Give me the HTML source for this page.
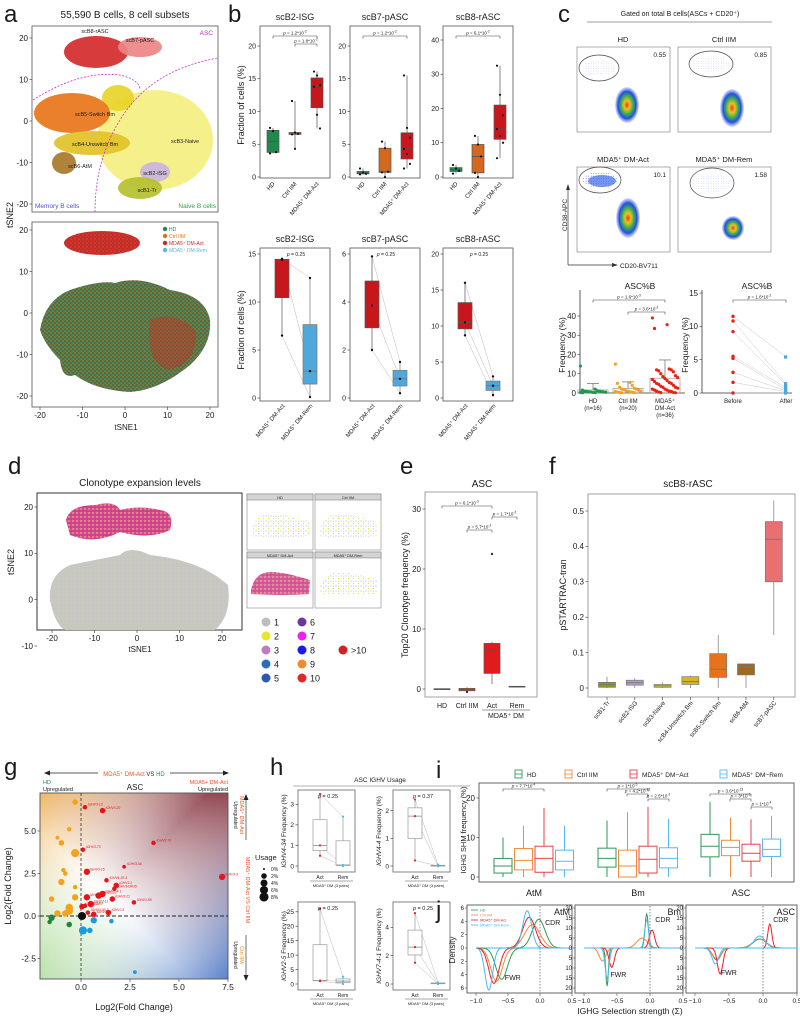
<!DOCTYPE html>
<html><head><meta charset="utf-8">
<style>
body{margin:0;background:#fff;}
svg{display:block;font-family:"Liberation Sans",Arial,sans-serif;}
</style></head>
<body>
<svg id="fig" width="800" height="1019" viewBox="0 0 800 1019">
<defs>
<pattern id="mixA" width="4" height="4" patternUnits="userSpaceOnUse">
<rect width="4" height="4" fill="#2e8b4e"/>
<circle cx="1" cy="1" r="0.8" fill="#d9231f"/><circle cx="3" cy="3" r="0.7" fill="#d9231f"/>
<circle cx="3" cy="1" r="0.5" fill="#e38a2c"/><circle cx="1" cy="3.2" r="0.45" fill="#5ab4e5"/>
</pattern>
<pattern id="mixR" width="4" height="4" patternUnits="userSpaceOnUse">
<rect width="4" height="4" fill="#d9231f"/>
<circle cx="1" cy="1" r="0.6" fill="#2e8b4e"/><circle cx="3" cy="3" r="0.45" fill="#5ab4e5"/>
</pattern>
<pattern id="grayD" width="4" height="4" patternUnits="userSpaceOnUse">
<rect width="4" height="4" fill="#c6c6c6"/>
<circle cx="1" cy="1" r="0.4" fill="#e3e31c"/><circle cx="3" cy="3" r="0.4" fill="#dadada"/>
</pattern>
<pattern id="multiD" width="4" height="4" patternUnits="userSpaceOnUse">
<rect width="4" height="4" fill="#d44a9a"/>
<circle cx="1" cy="1" r="0.7" fill="#e6e62a"/><circle cx="3" cy="3" r="0.6" fill="#e21a1a"/>
<circle cx="3" cy="1" r="0.45" fill="#f22af2"/><circle cx="1" cy="3" r="0.4" fill="#3a3ae8"/>
</pattern>
<pattern id="sparseD" width="5" height="5" patternUnits="userSpaceOnUse">
<rect width="5" height="5" fill="#fff"/>
<circle cx="1" cy="1" r="0.6" fill="#bbb"/><circle cx="3.5" cy="3.5" r="0.6" fill="#e3e31c"/><circle cx="3.5" cy="1.2" r="0.4" fill="#999"/>
</pattern>
<radialGradient id="flow" cx="0.5" cy="0.5" r="0.5">
<stop offset="0" stop-color="#e8401a"/><stop offset="0.25" stop-color="#f0c020"/>
<stop offset="0.5" stop-color="#40b050"/><stop offset="0.75" stop-color="#2050e0"/>
<stop offset="1" stop-color="#6070f0" stop-opacity="0.2"/></radialGradient>
<pattern id="blueDots" width="2.5" height="2.5" patternUnits="userSpaceOnUse">
<circle cx="1.2" cy="1.2" r="0.4" fill="#3050e0"/></pattern>
<linearGradient id="gBg1" x1="0" y1="1" x2="1" y2="0">
<stop offset="0" stop-color="#b9e0a8"/><stop offset="0.4" stop-color="#ffffff"/><stop offset="1" stop-color="#8a3a45"/></linearGradient>
<linearGradient id="gBg2" x1="0" y1="0" x2="1" y2="1">
<stop offset="0" stop-color="#f0b050" stop-opacity="0.85"/><stop offset="0.45" stop-color="#ffffff" stop-opacity="0"/><stop offset="1" stop-color="#4a78c8" stop-opacity="0.9"/></linearGradient>
</defs>
</svg>
<script>
// ---------------- data ----------------
const bTopTitles=['scB2-ISG','scB7-pASC','scB8-rASC'];
const bTopMax=[20,20,40];
const bHD=[[7.5,7.0,3.8,3.6],[1.3,0.7,0.5,0.4],[3.5,2.5,1.8,1.0]];
const bCtrl=[[11.6,6.8,6.6,6.5,4.3],[5.4,4.4,0.8,0.7,0.0],[12,9.5,6,1.2,0]];
const bAct=[[16.1,15.5,14.0,13.8,9.5,7.4],[15.5,7.5,6.0,4.3,3.5,2.0,1.3],[32.5,24,18,14,12,10,5.5]];
const bBotMax=[15,6,20];
const bPairAct=[[14.5,14.4,6.5],[5.9,3.85,2.0],[16,10.5,8.7]];
const bPairRem=[[12.5,2.8,0.1],[1.5,0.8,0.2],[3.0,1.7,0.4]];
const cHD=[14,2,1.5,1.2,1,1,0.8,0.8,0.6,0.5,0.5,0.4,0.3,0.3,0.2,0.1];
const cCtrl=[15,5.5,5,4,3,2.5,2,2,1.8,1.5,1.2,1,1,0.8,0.6,0.5,0.4,0.3,0.2,0.1];
const cAct=[39,35.5,33.5,12.5,12,12,11.5,11,10,9,8.5,8,7.5,7,6.5,6,5.5,5,5,4.5,4,3.5,3,3,2.5,2,2,1.5,1.5,1,1,0.8,0.5,0.3,0.2,0.1];
const cBefore=[11.5,10.8,9.2,5.5,5.2,3.1,1.6,0];
const cAfter=[5.4,1.4,1.2,0.8,0.5,0.3,0.2,0];
const eCats=['HD','Ctrl IIM','Act','Rem'];
const eStats=[[0,-0.1,-0.05,0.05,0.1],[-0.5,-0.3,-0.1,0.1,0.3],[0.8,2.6,6.5,7.6,7.9],[0.3,0.35,0.4,0.45,0.5]];
const eOut=[[],[-0.5],[22.5],[]];
const fCats=['scB1-Tr','scB2-ISG','scB3-Naive','scB4-Unswitch Bm','scB5-Switch Bm','scB6-AtM','scB7-pASC'];
const fStats=[[0,0.002,0.01,0.016,0.032],[0,0.008,0.015,0.022,0.028],[0,0.002,0.006,0.01,0.016],[0,0.01,0.018,0.032,0.035],[0,0.03,0.053,0.097,0.15],[0,0.037,0.06,0.068,0.068],[0.15,0.3,0.42,0.47,0.53]];
const fCols=['#8f9a1a','#b49ac8','#d8d040','#d4b820','#e8721c','#a06a1a','#e87070'];
const gRed=[[0.2,6.4,1],[1.1,6.2,2],[3.7,4.3,1],[0.1,3.9,1],[0.3,2.6,3],[2.2,2.9,0.5],[7.2,2.3,3],[1.8,1.8,2],[1.3,2.1,1],[1.7,1.6,1],[0.9,1.2,3],[1.1,1.3,3],[0.3,1.1,3],[1.6,1.0,2],[2.7,0.8,1],[0.5,0.7,3],[0.2,0.6,1],[0.05,0.55,2],[1.4,0.2,2],[0.35,0.2,1],[0.65,0.1,2]];
const gRedLab=['IGHV3-13','IGHV3-20','IGHV2-70','IGHV3-73','IGHV3-15','IGHV3-NL','IGHV3-9','IGHV1-2','IGHV4-30-4','IGHV3/OR15','IGHV3-23','IGHV7-4-1','IGHV4-28','IGHV3-21','IGHV1-58','IGHV3-11','IGHV1-69','IGHV4-34','IGHV2-5','IGHV3-30-3','IGHV1-3'];
const gOrange=[[-0.3,6.7,2],[-0.6,5.1,1],[-1.2,4.6,0.5],[-1.0,4.3,2],[-0.3,3.7,6],[-0.9,2.7,1],[-0.8,2.5,1],[-1.0,2.0,3],[-0.3,1.7,1],[-1.5,1.0,2],[-0.3,1.1,3],[-0.6,0.5,5],[-0.6,0.3,5],[-1.2,0.15,3],[-0.8,0.15,3]];
const gGreen=[[-1.5,-0.1,3],[-1.6,-0.35,1],[-0.6,-0.5,2]];
const gBlue=[[0.65,-0.25,3],[1.55,-0.3,1],[0.1,-0.85,6],[0.45,-0.85,2],[2.75,-3.3,0.5]];
const gBlack=[[0.05,0.0,6]];
const hGenes=['IGHV4-34','IGHV4-4','IGHV2-5','IGHV7-4-1'];
const hMax=[3.5,2.6,27,5.5];
const hTicks=[[0,1,2,3],[0,1,2],[0,5,10,15,20,25],[0,2,4]];
const hP=['0.25','0.37','0.25','0.25'];
const hAct=[[3.5,1.0,0.5],[2.4,1.8,0.2],[26,1.2,1.0],[5.0,2.6,1.5]];
const hRem=[[2.4,0.05,0.0],[0.05,0.0,0.0],[2.5,1.0,0.0],[0.1,0.05,0.0]];
const iGroups=['AtM','Bm','ASC'];
const iSeries=['HD','Ctrl IIM','MDA5⁺ DM−Act','MDA5⁺ DM−Rem'];
const iCols=['#2e9a5a','#f08a3a','#e8404a','#5ab8f0'];
const iStats=[[[0,1,2.8,4.7,10],[0,1.8,4.2,7.2,13],[0,1.2,4.7,7.8,17.5],[0,1.8,4,6.8,13]],
[[0,2.5,4.7,7.3,14.3],[0,0,2.8,6.8,16.4],[0,1,4.5,7.8,17.8],[0,2.3,4.7,7.4,14.7]],
[[0,5.1,7.8,10.8,19],[0,5.4,7.5,9.3,15],[0,4,6,8.3,14.6],[0,5.2,7,9.6,15.5]]];
const jPanels=['AtM','Bm','ASC'];
const jMax=[6,20,20];
const jCDR=[[[-0.02,0.1,4.3],[-0.12,0.12,3.5],[-0.17,0.1,4.6],[-0.2,0.07,5.6]],
[[-0.05,0.025,17],[-0.12,0.08,5],[0.03,0.04,9],[-0.05,0.03,14]],
[[-0.05,0.1,4.5],[-0.05,0.1,4.3],[0.1,0.03,12],[-0.05,0.08,6]]];
const jFWR=[[[-0.6,0.09,4.7],[-0.68,0.09,5],[-0.72,0.08,5.3],[-0.8,0.06,6.3]],
[[-0.65,0.02,19],[-0.72,0.05,6.5],[-0.58,0.04,9.7],[-0.65,0.03,15]],
[[-0.68,0.06,6],[-0.68,0.06,5.5],[-0.63,0.04,13],[-0.7,0.05,8]]];
const jCols=['#2e9a5a','#f08a3a','#e8202a','#4ab8f0'];

// ---------------- helpers ----------------
const NS='http://www.w3.org/2000/svg';
const S=document.getElementById('fig');
function mk(tag,a,p){const e=document.createElementNS(NS,tag);for(const k in a)e.setAttribute(k,a[k]);(p||S).appendChild(e);return e;}
function tx(x,y,s,fs,o){o=o||{};const e=mk('text',{x:x,y:y,'font-size':fs,fill:o.fill||'#1a1a1a','text-anchor':o.a||'start'},o.p);
 if(o.rot!=null)e.setAttribute('transform','rotate('+o.rot+' '+x+' '+y+')');
 if(o.w)e.setAttribute('font-weight',o.w);if(o.it)e.setAttribute('font-style','italic');e.textContent=s;return e;}
function lin(d0,d1,r0,r1){return v=>r0+(v-d0)*(r1-r0)/(d1-d0);}
function line(x1,y1,x2,y2,c,w,da){const e=mk('line',{x1:x1,y1:y1,x2:x2,y2:y2,stroke:c||'#333','stroke-width':w||0.8});if(da)e.setAttribute('stroke-dasharray',da);return e;}
function frame(x,y,w,h,c){return mk('rect',{x:x,y:y,width:w,height:h,fill:'none',stroke:c||'#666','stroke-width':0.9});}
function q(arr,p){const a=[...arr].sort((m,n)=>m-n);const i=(a.length-1)*p;const lo=Math.floor(i),hi=Math.ceil(i);return a[lo]+(a[hi]-a[lo])*(i-lo);}
function stats(arr){return [Math.min(...arr),q(arr,0.25),q(arr,0.5),q(arr,0.75),Math.max(...arr)];}
function box(cx,w,st,ys,fill,stroke,sw){
 const g=mk('g',{});
 g.appendChild(line(cx,ys(st[0]),cx,ys(st[1]),stroke,sw||0.7));
 g.appendChild(line(cx,ys(st[3]),cx,ys(st[4]),stroke,sw||0.7));
 mk('rect',{x:cx-w/2,y:ys(st[3]),width:w,height:Math.max(0.8,ys(st[1])-ys(st[3])),fill:fill,stroke:stroke,'stroke-width':sw||0.7},g);
 g.appendChild(line(cx-w/2,ys(st[2]),cx+w/2,ys(st[2]),stroke,sw||0.9));
 return g;}
function pv(x,y,val,exp,fs){const t=tx(x,y,'',fs||4.5,{a:'middle'});
 const a=mk('tspan',{'font-style':'italic'},t);a.textContent='p';
 const b=mk('tspan',{},t);b.textContent=' = '+val+(exp?'*10':'');
 if(exp){const c=mk('tspan',{'baseline-shift':'super','font-size':(fs||4.5)*0.7},t);c.textContent=exp;}
 return t;}
function bracket(x1,x2,y,txt,exp,fs){line(x1,y,x2,y,'#444',0.6);line(x1,y,x1,y+2.5,'#444',0.6);line(x2,y,x2,y+2.5,'#444',0.6);pv((x1+x2)/2,y-1.5,txt,exp,fs);}
function letter(x,y,s){const t=tx(x,y,s,24,{});}
function yticks(x,ys,vals,fs,labs){vals.forEach((v,i)=>{line(x-2.5,ys(v),x,ys(v),'#333',0.6);tx(x-4,ys(v)+fs*0.35,labs?labs[i]:String(v),fs,{a:'end'});});}

// ================= PANEL A =================
letter(4,22,'a');
tx(125,18,'55,590 B cells, 8 cell subsets',10,{a:'middle'});
const aTop=frame(32,26,186,186);
const clusters=[['#f5ef80',155,140,58,50,'scB3-Naive'],['#e8d428',118,98,16,13,''],['#e8751a',72,113,38,20,''],['#e2c228',92,143,38,12,''],
['#a8782a',64,163,12,11,''],['#c9b5dd',155,172,15,10,''],['#b5c030',140,188,22,11,''],['#d42a2a',96,52,32,16,''],['#ec8585',140,47,22,10,'']];
clusters.forEach(c=>{const e=mk('ellipse',{cx:c[1],cy:c[2],rx:c[3],ry:c[4],fill:c[0],opacity:0.92});});
[['scB8-rASC',95,33],['scB7-pASC',140,42],['scB5-Switch Bm',95,116],['scB4-Unswitch Bm',95,146],['scB3-Naive',185,143],['scB6-AtM',80,168],['scB2-ISG',155,175],['scB1-Tr',147,192]].forEach(l=>tx(l[1],l[2],l[0],5.5,{a:'middle'}));
mk('path',{d:'M33,100 Q80,70 120,75 Q140,80 140,90',fill:'none',stroke:'#d030d0','stroke-width':0.8,'stroke-dasharray':'2,1.5'});
mk('path',{d:'M95,212 Q95,160 120,120 Q150,70 218,58',fill:'none',stroke:'#d030d0','stroke-width':0.8,'stroke-dasharray':'2,1.5'});
tx(213,35,'ASC',6.5,{a:'end',fill:'#c030c0'});
tx(35,208,'Memory B cells',6.5,{fill:'#5050e0'});
tx(216,208,'Naive B cells',6.5,{a:'end',fill:'#30a040'});
const aYs=lin(-20,20,204,38);yticks(32,aYs,[20,10,0,-10,-20],8);
const aBot=frame(32,222,186,185);
mk('ellipse',{cx:102,cy:243,rx:38,ry:12,fill:'url(#mixR)'});
mk('path',{d:'M40,330 Q45,300 70,290 Q100,280 115,283 Q140,275 170,290 Q205,295 210,320 Q212,345 190,365 Q160,390 130,392 Q95,390 75,375 Q62,380 60,360 Q45,345 40,330Z',fill:'url(#mixA)'});
mk('path',{d:'M150,320 Q175,310 195,330 Q200,360 170,370 Q145,365 150,320Z',fill:'#d9231f',opacity:0.4});
const aYs2=lin(-20,20,396,230);yticks(32,aYs2,[20,10,0,-10,-20],8);
const aXs=lin(-20,20,40,210);[-20,-10,0,10,20].forEach(v=>{line(aXs(v),407,aXs(v),410,'#333',0.6);tx(aXs(v),418,String(v),8,{a:'middle'});});
tx(126,430,'tSNE1',8,{a:'middle'});
tx(13,215,'tSNE2',9,{a:'middle',rot:-90});
const aLeg=[['HD','#1f8a4a'],['Ctrl IIM','#e0701a'],['MDA5⁺ DM-Act','#d9231f'],['MDA5⁺ DM-Rem','#5ab4e5']];
aLeg.forEach((l,i)=>{const c=mk('circle',{cx:165,cy:229+i*7,r:2.2,fill:l[1]});tx(169,231+i*7,l[0],5,{fill:l[1]});});

// ================= PANEL B =================
letter(228,22,'b');
const bX=[260,350,443];
tx(244,105,'Fraction of cells (%)',9,{a:'middle',rot:-90});
bTopTitles.forEach((t,k)=>{
 const x0=bX[k];frame(x0,26,70,152);
 tx(x0+35,20,t,9,{a:'middle'});
 const ys=lin(0,bTopMax[k],177,bTopMax[k]==40?40:46);
 const tv=bTopMax[k]==40?[0,10,20,30,40]:[0,5,10,15,20];yticks(x0,ys,tv,7);
 const grp=[bHD[k],bCtrl[k],bAct[k]],cols=['#1f8a4a','#d2691e','#c8161d'];
 grp.forEach((g,i)=>{const cx=x0+13+i*22;const b=box(cx,12,stats(g),ys,cols[i],'#555');
  g.forEach((v,j)=>{const p=mk('circle',{cx:cx-3+(j%3)*3,cy:ys(v),r:1.1,fill:'#111'});});});
 ['HD','Ctrl IIM','MDA5⁺ DM-Act'].forEach((l,i)=>tx(x0+15+i*22,184,l,6,{a:'end',rot:-50}));
 bracket(x0+13,x0+57,36,k==0?'1.2':k==1?'1.2':'6.1','-2');
 if(k==0)bracket(x0+35,x0+57,44,'1.8','-2');
});
tx(244,330,'Fraction of cells (%)',9,{a:'middle',rot:-90});
['scB2-ISG','scB7-pASC','scB8-rASC'].forEach((t,k)=>{
 const x0=bX[k];frame(x0,248,70,153);tx(x0+35,242,t,9,{a:'middle'});
 const ys=lin(0,bBotMax[k],398,254);
 const tv=k==0?[0,5,10,15]:k==1?[0,2,4,6]:[0,5,10,15,20];yticks(x0,ys,tv,7);
 const c1=x0+22,c2=x0+50;
 bPairAct[k].forEach((v,j)=>line(c1,ys(v),c2,ys(bPairRem[k][j]),'#bbb',0.5));
 box(c1,14,stats(bPairAct[k]),ys,'#c8161d','#555');box(c2,14,stats(bPairRem[k]),ys,'#4fa8dc','#777');
 bPairAct[k].forEach(v=>mk('circle',{cx:c1,cy:ys(v),r:1.2,fill:'#111'}));
 bPairRem[k].forEach(v=>mk('circle',{cx:c2,cy:ys(v),r:1.2,fill:'#111'}));
 pv(x0+36,256,'0.25',null,5);
 tx(c1+3,406,'MDA5⁺ DM-Act',6,{a:'end',rot:-50});tx(c2+3,406,'MDA5⁺ DM-Rem',6,{a:'end',rot:-50});
});

// ================= PANEL C =================
letter(558,22,'c');
tx(680,16,'Gated on total B cells(ASCs + CD20⁺)',7,{a:'middle'});line(587,22,772,22,'#444',0.6);
const flows=[['HD',577,47,'0.55',599,68,20,13,627,105,12,18,0.3],['Ctrl IIM',678,47,'0.85',711,64,22,13,732,108,12,19,0.3],
['MDA5⁺ DM-Act',577,167,'10.1',600,180,21,13,628,218,12,20,1],['MDA5⁺ DM-Rem',678,167,'1.58',712,183,22,15,733,228,11,12,0.35]];
flows.forEach(f=>{
 const g=mk('g',{});
 mk('rect',{x:f[1],y:f[2],width:93,height:85,fill:'#fff',stroke:'#777','stroke-width':0.6},g);
 tx(f[1]+46,f[2]-5,f[0],7.5,{a:'middle'});
 tx(f[1]+89,f[2]+10,f[3],6.5,{a:'end'});
 mk('ellipse',{cx:f[4],cy:f[5],rx:f[6]*0.85,ry:f[7]*0.6,fill:'url(#blueDots)',opacity:f[12]},g);
 if(f[12]==1)mk('ellipse',{cx:f[4]+2,cy:f[5]+1,rx:14,ry:6,fill:'#3a6ae8',opacity:0.7},g);
 mk('ellipse',{cx:f[4],cy:f[5],rx:f[6],ry:f[7],fill:'none',stroke:'#444','stroke-width':0.7},g);
 mk('ellipse',{cx:f[8],cy:f[9],rx:f[10],ry:f[11],fill:'url(#flow)'},g);
});
tx(567,215,'CD38-APC',6.5,{a:'middle',rot:-90});
line(568,190,568,265,'#333',0.7);line(568,265,612,265,'#333',0.7);
mk('path',{d:'M566,190 L568,184 L570,190Z',fill:'#333'});mk('path',{d:'M612,263 L618,265 L612,267Z',fill:'#333'});
tx(620,268,'CD20-BV711',6.5);
tx(640,289,'ASC%B',8.5,{a:'middle'});
const cYs=lin(0,40,393,316);
line(580,290,580,393,'#333',0.8);line(580,393,685,393,'#333',0.8);
yticks(580,cYs,[0,10,20,30,40],8);
tx(565,345,'Frequency (%)',8.5,{a:'middle',rot:-90});
const cGrp=[cHD,cCtrl,cAct],cCx=[593,628,665],cColors=['#1a9a4a','#f5a020','#f02010'],cLab=[['HD','(n=16)'],['Ctrl IIM','(n=20)'],['MDA5⁺','DM-Act','(n=36)']];
cGrp.forEach((g,i)=>{
 const m=g.reduce((a,b)=>a+b,0)/g.length;const sd=Math.sqrt(g.reduce((a,b)=>a+(b-m)*(b-m),0)/(g.length-1));
 const bar=mk('rect',{x:cCx[i]-15,y:cYs(m),width:30,height:cYs(0)-cYs(m),fill:'none',stroke:'#888','stroke-width':0.6});
 line(cCx[i],cYs(m),cCx[i],cYs(m+sd),'#666',0.7);line(cCx[i]-6,cYs(m+sd),cCx[i]+6,cYs(m+sd),'#666',0.7);
 g.forEach((v,j)=>{const dx=((j*7)%13-6)*2.1;const p=mk('circle',{cx:cCx[i]+dx,cy:cYs(v),r:1.6,fill:cColors[i]});});
 cLab[i].forEach((l,j)=>tx(cCx[i],403+j*7,l,6,{a:'middle'}));
});
bracket(593,665,300,'1.6','-3',4.5);bracket(628,665,312,'3.6','-2',4.5);
tx(757,289,'ASC%B',8.5,{a:'middle'});
const cYs2=lin(0,15,393,293);
line(702,290,702,393,'#333',0.8);line(702,393,792,393,'#333',0.8);
yticks(702,cYs2,[0,5,10,15],8);
tx(688,345,'Frequency (%)',8.5,{a:'middle',rot:-90});
cBefore.forEach((v,j)=>{line(733,cYs2(v),786,cYs2(cAfter[j]),'#c8c8c8',0.5);});
cBefore.forEach(v=>mk('circle',{cx:733,cy:cYs2(v),r:1.7,fill:'#e8201a'}));
cAfter.forEach(v=>mk('rect',{x:784,y:cYs2(v)-1.6,width:3.2,height:3.2,fill:'#4aa8e0'}));
tx(733,403,'Before',6,{a:'middle'});tx(786,403,'After',6,{a:'middle'});
bracket(733,786,300,'1.6','-2',4.5);

// ================= PANEL D =================
letter(8,474,'d');
tx(140,486,'Clonotype expansion levels',10,{a:'middle'});
const dF=mk('rect',{x:37,y:493,width:205,height:137,fill:'#fff',stroke:'#333','stroke-width':1});
mk('path',{d:'M66,520 Q70,505 95,505 Q115,500 120,510 Q140,505 160,510 Q175,512 170,530 Q150,540 120,532 Q95,545 70,535Z',fill:'url(#multiD)'});
mk('path',{d:'M50,600 Q48,575 70,565 Q95,560 120,555 Q130,545 150,555 Q200,560 228,585 Q232,615 215,630 L65,630 Q55,625 50,600Z',fill:'url(#grayD)'});
const dYs=lin(-10,20,646,507);yticks(37,dYs,[20,10,0,-10],8);
[-20,-10,0,10,20].forEach(v=>{const xx=lin(-20,20,52,222)(v);line(xx,630,xx,633,'#333',0.6);tx(xx,641,String(v),8,{a:'middle'});});
tx(140,652,'tSNE1',8,{a:'middle'});tx(14,562,'tSNE2',9,{a:'middle',rot:-90});
[['HD',247,494,'url(#sparseD)'],['Ctrl IIM',315,494,'url(#sparseD)'],['MDA5⁺ DM-Act',247,552,'url(#multiD)'],['MDA5⁺ DM-Rem',315,552,'url(#sparseD)']].forEach(p=>{
 const g=mk('g',{});
 mk('rect',{x:p[1],y:p[2],width:66,height:56,fill:'#fff',stroke:'#888','stroke-width':0.6},g);
 mk('rect',{x:p[1],y:p[2],width:66,height:6,fill:'#d4d4d4',stroke:'#888','stroke-width':0.6},g);
 tx(p[1]+33,p[2]+4.8,p[0],3.8,{a:'middle',p:g});
 mk('path',{d:`M${p[1]+4},${p[2]+38} Q${p[1]+8},${p[2]+18} ${p[1]+28},${p[2]+20} Q${p[1]+45},${p[2]+22} ${p[1]+63},${p[2]+28} L${p[1]+62},${p[2]+42} Q${p[1]+35},${p[2]+44} ${p[1]+4},${p[2]+42}Z`,fill:p[3],opacity:0.9},g);
});
const dLeg=[['1','#bdbdbd'],['2','#e6e62a'],['3','#c07cc0'],['4','#2a70b0'],['5','#2a5aa8'],['6','#6a3a98'],['7','#f020f0'],['8','#1a1af0'],['9','#f08a2a'],['10','#e02828'],['>10','#d42020']];
dLeg.forEach((l,i)=>{let cx,cy;if(i<5){cx=266;cy=622+i*14;}else if(i<10){cx=302;cy=622+(i-5)*14;}else{cx=343;cy=650;}
 const c=mk('circle',{cx:cx,cy:cy,r:4.5,fill:l[1]});
 tx(cx+8,cy+3.5,l[0],9);});

// ================= PANEL E =================
letter(400,474,'e');
tx(482,487,'ASC',10,{a:'middle'});
frame(425,492,112,205,'#999');
const eYs=lin(0,30,689,509);yticks(425,eYs,[0,10,20,30],8);
tx(408,595,'Top20 Clonotype frequency (%)',9,{a:'middle',rot:-90});
const eCx=[442,467,492,517],eCol=['#1f8a4a','#d2691e','#e31a1c','#5ab4e5'];
eStats.forEach((s,i)=>{const b=box(eCx[i],16,s,eYs,eCol[i],'#555');
 eOut[i].forEach(v=>mk('circle',{cx:eCx[i],cy:eYs(v),r:1.2,fill:'#333'}));
 tx(eCx[i],708,eCats[i],7,{a:'middle'});});
line(482,710,530,710,'#333',0.6);tx(506,718,'MDA5⁺ DM',7,{a:'middle'});
bracket(442,492,506,'6.1','-3');bracket(467,492,530,'5.7','-3');bracket(492,517,517,'1.7','-2');

// ================= PANEL F =================
letter(549,474,'f');
tx(688,487,'scB8-rASC',10,{a:'middle'});
frame(588,494,207,203,'#999');
const fYs=lin(0,0.5,688,511);yticks(588,fYs,[0,0.1,0.2,0.3,0.4,0.5],8,['0','0.1','0.2','0.3','0.4','0.5']);
tx(566,595,'pSTARTRAC-tran',9,{a:'middle',rot:-90});
fStats.forEach((s,i)=>{const cx=607+i*27.8;const b=box(cx,17,s,fYs,fCols[i],'#777');
 line(cx,697,cx,700,'#333',0.6);tx(cx+3,703,fCats[i],6.2,{a:'end',rot:-50});});

// ================= PANEL G =================
letter(4,775,'g');
line(48,773,225,773,'#222',0.7);mk('path',{d:'M44,773 L50,770.5 L50,775.5Z',fill:'#222'});mk('path',{d:'M229,773 L223,770.5 L223,775.5Z',fill:'#222'});
mk('rect',{x:98,y:768,width:72,height:9,fill:'#fff'});
const ght=tx(134,776,'',6,{a:'middle'});
{const a=mk('tspan',{fill:'#f05020'},ght);a.textContent='MDA5⁺ DM-Act';const b=mk('tspan',{fill:'#222'},ght);b.textContent=' VS ';const c=mk('tspan',{fill:'#1f8a4a'},ght);c.textContent='HD';}
tx(43,784,'HD',5.5,{fill:'#1f8a4a'});tx(43,791,'Upregulated',5.5);
tx(228,784,'MDA5+ DM-Act',5.5,{a:'end',fill:'#f05020'});tx(228,791,'Upregulated',5.5,{a:'end'});
tx(135,790,'ASC',8,{a:'middle'});
const gX0=40,gX1=228,gY0=793,gY1=979;
mk('rect',{x:gX0,y:gY0,width:gX1-gX0,height:gY1-gY0,fill:'url(#gBg1)'});
mk('rect',{x:gX0,y:gY0,width:gX1-gX0,height:gY1-gY0,fill:'url(#gBg2)'});
frame(gX0,gY0,gX1-gX0,gY1-gY0,'#555');
const gXs=lin(0,7.5,81,228),gYs=lin(0,5,916,831);
line(gXs(0),gY0,gXs(0),gY1,'#333',0.8,'3,2');line(gX0,gYs(0),gX1,gYs(0),'#222',0.9,'4,2');
function gDots(arr,col,name,labs){arr.forEach((p,i)=>{const c=mk('circle',{cx:gXs(p[0]),cy:gYs(p[1]),r:1+Math.sqrt(p[2])*1.25,fill:col});
 if(labs)tx(gXs(p[0])+3,gYs(p[1])-1.5,labs[i],3.3,{fill:'#e0141c',it:true});});}
gDots(gOrange,'#f5a21b','gene-point-ctrl');gDots(gGreen,'#1a8a3a','gene-point-hd');gDots(gBlue,'#1a9be0','gene-point-rem');gDots(gRed,'#e8141c','gene-point-act',gRedLab);gDots(gBlack,'#111','gene-point-ns');
[0,2.5,5,7.5].forEach(v=>{line(gXs(v),gY1,gXs(v),gY1+3,'#333',0.6);tx(gXs(v),gY1+11,v.toFixed(1),8.5,{a:'middle'});});
yticks(gX0,gYs,[-2.5,0,2.5,5],8.5,['-2.5','0.0','2.5','5.0']);
tx(134,1010,'Log2(Fold Change)',9,{a:'middle'});tx(11,886,'Log2(Fold Change)',9,{a:'middle',rot:-90});
line(246,800,246,840,'#333',0.7);mk('path',{d:'M243.5,800 L246,794 L248.5,800Z',fill:'#222'});
line(246,935,246,975,'#333',0.7);mk('path',{d:'M243.5,975 L246,981 L248.5,975Z',fill:'#222'});
tx(240,815,'MDA5⁺ DM-Act',5.5,{a:'middle',rot:90,fill:'#f05020'});tx(234,815,'Upregulated',5,{a:'middle',rot:90});
tx(246,890,'MDA5⁺ DM-Act VS Ctrl IIM',5.5,{a:'middle',rot:90,fill:'#f05020'});
tx(240,955,'Ctrl IIM',5.5,{a:'middle',rot:90,fill:'#f08a20'});tx(234,955,'Upregulated',5,{a:'middle',rot:90});
tx(255,860,'Usage',7.5);
[0,2,4,6,8].forEach((u,i)=>{const c=mk('circle',{cx:264,cy:869+i*7,r:1+Math.sqrt(u)*1.25,fill:'#111'});tx(271,871+i*7,u+'%',5);});

// ================= PANEL H =================
letter(270,775,'h');
tx(380,782,'ASC IGHV Usage',6.5,{a:'middle'});line(293,786,470,786,'#999',0.8);
const hPos=[[298,790],[393,790],[298,902],[393,902]];
hGenes.forEach((g,k)=>{
 const x0=hPos[k][0],y0=hPos[k][1],h=k<2?82:88;
 frame(x0,y0,57,h,'#777');
 const ys=lin(0,hMax[k],y0+h-6,y0+4);yticks(x0,ys,hTicks[k],6.5);
 const c1=x0+22,c2=x0+45;
 hAct[k].forEach((v,j)=>line(c1,ys(v),c2,ys(hRem[k][j]),'#bbb',0.5));
 box(c1,14,stats(hAct[k]),ys,'#fff','#999');box(c2,14,stats(hRem[k]),ys,'#fff','#999');
 hAct[k].forEach(v=>mk('circle',{cx:c1,cy:ys(v),r:1.1,fill:'#e8202a'}));
 hRem[k].forEach(v=>mk('circle',{cx:c2,cy:ys(v),r:1.1,fill:'#4ab8f0'}));
 pv(x0+30,y0+8,hP[k],null,5.5);
 tx(c1,y0+h+7,'Act',5,{a:'middle'});tx(c2,y0+h+7,'Rem',5,{a:'middle'});
 line(x0+12,y0+h+9,x0+55,y0+h+9,'#555',0.5);tx(x0+33,y0+h+15,'MDA5⁺ DM (3 pairs)',4,{a:'middle'});
 const yl=tx(x0-12,y0+h/2,'',6.5,{a:'middle',rot:-90});const a=mk('tspan',{'font-style':'italic'},yl);a.textContent=g;const b=mk('tspan',{},yl);b.textContent=' Frequency (%)';
});

// ================= PANEL I =================
letter(436,778,'i');
iSeries.forEach((s,i)=>{const lx=[515,565,630,720][i];
 const r=mk('rect',{x:lx,y:770,width:7,height:8,fill:'none',stroke:iCols[i],'stroke-width':0.9});
 line(lx,774,lx+7,774,iCols[i],0.8);tx(lx+12,777,s,6.5);});
frame(479,783,315,99,'#555');
const iYs=lin(0,20,877,798);yticks(479,iYs,[0,10,20],8);
tx(466,830,'IGHG SHM frequency (%)',7.5,{a:'middle',rot:-90});
const iG0=[503,607,710];
iStats.forEach((grp,gi)=>{grp.forEach((s,si)=>{const cx=iG0[gi]+si*20.5;const b=box(cx,18,s,iYs,'#fff',iCols[si],1);});
 tx(iG0[gi]+31,896,iGroups[gi],9,{a:'middle'});});
bracket(503,544,789,'7.7','-4',4.5);
bracket(607,648,789,'1','-5',4.5);bracket(627,648,794,'4.2','-15',4.5);bracket(648,669,799,'2.5','-2',4.5);
bracket(710,751,794,'3.6','-13',4.5);bracket(730,751,799,'3','-3',4.5);bracket(751,772,807,'1','-4',4.5);

// ================= PANEL J =================
letter(436,918,'j');
const jF=[[467,572],[575,683],[686,797]];
tx(455,950,'Density',8,{a:'middle',rot:-90});
jPanels.forEach((p,k)=>{
 const x0=jF[k][0],x1=jF[k][1];frame(x0,905,x1-x0,88,'#555');
 const xs=lin(-1,0.5,x0+9,x1),ys=lin(0,jMax[k],948,908),yn=lin(0,jMax[k],948,988);
 const tv=k==0?[0,2,4,6]:[0,5,10,15,20];
 tv.forEach(v=>{line(x0-2,ys(v),x0,ys(v),'#333',0.5);tx(x0-3,ys(v)+2,String(v),6,{a:'end'});if(v){line(x0-2,yn(v),x0,yn(v),'#333',0.5);tx(x0-3,yn(v)+2,String(v),6,{a:'end'});}});
 [-1,-0.5,0,0.5].forEach(v=>{line(xs(v),993,xs(v),996,'#333',0.5);tx(xs(v),1003,v===0?'0.0':(v<0?'−':'')+Math.abs(v).toFixed(1),6.5,{a:'middle'});});
 line(xs(0),906,xs(0),992,'#555',0.7,'1.5,1.5');
 [jCDR[k],jFWR[k]].forEach((set,side)=>{set.forEach((c,si)=>{let d='';for(let v=-1;v<=0.5001;v+=0.01){const dens=c[2]*Math.exp(-(v-c[0])*(v-c[0])/(2*c[1]*c[1]));const yy=side==0?ys(dens):yn(dens);d+=(d?'L':'M')+xs(v).toFixed(1)+','+yy.toFixed(1);}
  const pth=mk('path',{d:d,fill:'none',stroke:jCols[si],'stroke-width':1});});});
 tx(x1-2,915,p,9,{a:'end'});
 tx(xs(k==2?0.15:0.08),k==0?925:922,'CDR',7);tx(xs(k==0?-0.55:k==1?-0.6:-0.62),k==0?980:k==1?977:975,'FWR',7);
});
tx(630,1014,'IGHG Selection strength (Σ)',8.5,{a:'middle'});
['HD','Ctrl IIM','MDA5⁺ DM-Act','MDA5⁺ DM-Rem'].forEach((l,i)=>{line(471,910+i*5,478,910+i*5,jCols[i],0.8);tx(480,911.5+i*5,l,3.8,{fill:jCols[i]});});
</script>
</body></html>
